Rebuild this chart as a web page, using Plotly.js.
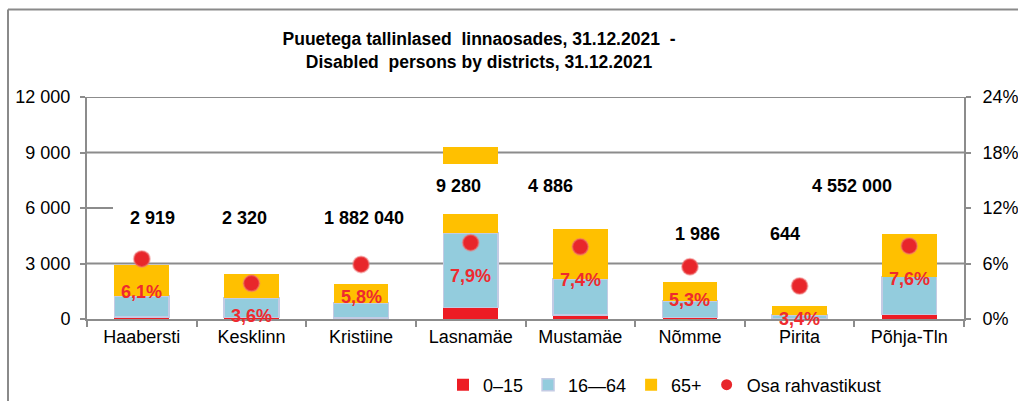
<!DOCTYPE html>
<html>
<head>
<meta charset="utf-8">
<script src="https://cdn.plot.ly/plotly-3.0.1.min.js"></script>
<style>html,body{margin:0;padding:0;background:#fff;}#chart{width:1018px;height:401px;}</style>
</head>
<body>
<div id="chart"></div>
<script>
// ---- data ----
const categories = ['Haabersti','Kesklinn','Kristiine','Lasnamäe','Mustamäe','Nõmme','Pirita','Põhja-Tln'];
const age0_15  = [100, 70, 60, 610, 230, 80, 40, 240];
const age16_64 = [1140, 1060, 800, 4040, 1930, 890, 180, 2050];
const age65    = [1680, 1280, 1030, 1030, 2700, 1050, 500, 2320];
const lasnamaeGap = [0, 0, 0, 2700, 0, 0, 0, 0];   // empty space before floating 65+ part
const lasnamaeTop = [0, 0, 0, 930, 0, 0, 0, 0];    // floating 65+ part
const shareDot = [6.5, 3.86, 5.9, 8.25, 7.8, 5.65, 3.57, 7.9];
const shareLabels = ['6,1%','3,6%','5,8%','7,9%','7,4%','5,3%','3,4%','7,6%'];
const totalLabels = ['2 919','2 320','1 882 040','9 280','4 886','1 986','644','4 552 000'];
const yTicks = [0, 3000, 6000, 9000, 12000];

// ---- layout helpers (positions of text labels) ----
const totalLabelY  = [5440, 5440, 5440, 7190, 7190, 4600, 4600, 7190];
const totalLabelDx = [11, -7, 3, -12, -30, 8, -15, -57];

const W = 1018, H = 401, L = 87, R = 54, T = 97, B = 82;
const pw = W - L - R, ph = H - T - B;
const px = x => (x - L) / pw;
const py = y => (H - B - y) / ph;

const FONT = '"Liberation Sans", Arial, sans-serif';
const GRID = '#8c8c8c';

const traces = [
  {type:'bar', name:'0–15', x:categories, y:age0_15, marker:{color:'#ED1C24'}, hoverinfo:'skip'},
  {type:'bar', name:'16—64', x:categories, y:age16_64, marker:{color:'#93CCDD', line:{color:'#c3cbe4', width:1.5}}, hoverinfo:'skip'},
  {type:'bar', name:'65+', x:categories, y:age65, marker:{color:'#FFC000'}, hoverinfo:'skip'},
  {type:'bar', name:'gap', x:categories, y:lasnamaeGap, marker:{color:'rgba(0,0,0,0)'}, showlegend:false, hoverinfo:'skip'},
  {type:'bar', name:'65+ ', x:categories, y:lasnamaeTop, marker:{color:'#FFC000'}, showlegend:false, hoverinfo:'skip'},
  {type:'scatter', mode:'markers', name:'Osa rahvastikust', x:categories, y:shareDot, yaxis:'y2', showlegend:false,
   marker:{size:16, color:'#E8262B', line:{color:'rgba(240,120,120,0.5)', width:2}}, hoverinfo:'skip'},
  // legend entry for the dots (smaller symbol, as in the original legend)
  {type:'scatter', mode:'markers', name:'Osa rahvastikust', x:[categories[0]], y:[null], yaxis:'y2',
   marker:{size:11, color:'#E8262B'}, hoverinfo:'skip'}
];

const annotations = [];
categories.forEach((c, i) => {
  annotations.push({x:c, y:totalLabelY[i], xref:'x', yref:'y', text:'<b>' + totalLabels[i] + '</b>',
    showarrow:false, xshift:totalLabelDx[i], font:{family:FONT, size:18, color:'#000'}});
  annotations.push({x:c, y:shareDot[i], xref:'x', yref:'y2', text:'<b>' + shareLabels[i] + '</b>',
    showarrow:false, yshift:-33, font:{family:FONT, size:18, color:'#EE2A2F'}});
});

const shapes = [];
// horizontal grid lines (the 6 000 one is hidden behind the labels except a short stub)
yTicks.filter(v => v > 0).forEach(v => {
  shapes.push({type:'line', xref:'paper', yref:'y', x0:0, x1: v === 6000 ? px(113) : 1, y0:v, y1:v,
    line:{color:GRID, width:2}, layer:'below'});
});
// outer frame
shapes.push({type:'line', xref:'paper', yref:'paper', x0:px(8), x1:px(1030), y0:py(9.5), y1:py(9.5), line:{color:'#8a8a8a', width:2}});
shapes.push({type:'line', xref:'paper', yref:'paper', x0:px(8), x1:px(8), y0:py(9.5), y1:py(410), line:{color:'#8a8a8a', width:2}});

const layout = {
  width:W, height:H,
  margin:{l:L, r:R, t:T, b:B, pad:0, autoexpand:false},
  paper_bgcolor:'#fff', plot_bgcolor:'#fff',
  separators:', ',
  font:{family:FONT, size:18, color:'#000'},
  barmode:'stack', bargap:0.5,
  title:{text:'<b>Puuetega tallinlased  linnaosades, 31.12.2021  -<br>Disabled  persons by districts, 31.12.2021</b>',
    font:{family:FONT, size:17.5, color:'#000'}, x:px(479), xanchor:'center', xref:'paper',
    y:1 - 45/H, yref:'container', yanchor:'top'},
  xaxis:{type:'category', showline:true, linecolor:GRID, linewidth:2, ticks:'outside', tickson:'boundaries',
    ticklen:6, tickwidth:2, tickcolor:GRID, showgrid:false, tickfont:{family:FONT, size:18, color:'#000'}, fixedrange:true, automargin:false},
  yaxis:{range:[0,12000], tickvals:yTicks, tickformat:',', showline:true, linecolor:GRID, linewidth:2,
    ticks:'outside', ticklen:5, tickwidth:2, tickcolor:GRID, showgrid:false,
    zeroline:false, ticklabelstandoff:6, tickfont:{family:FONT, size:18, color:'#000'}, fixedrange:true, automargin:false},
  yaxis2:{range:[0,24], dtick:6, ticksuffix:'%', overlaying:'y', side:'right', showline:true, linecolor:GRID,
    linewidth:2, ticks:'outside', ticklen:5, tickwidth:2, tickcolor:GRID, showgrid:false, zeroline:false,
    ticklabelstandoff:8, tickfont:{family:FONT, size:18, color:'#000'}, fixedrange:true, automargin:false},
  legend:{orientation:'h', x:px(443), xanchor:'left', y:py(385), yanchor:'middle',
    font:{family:FONT, size:18, color:'#000'}, bgcolor:'rgba(0,0,0,0)', traceorder:'normal'},
  showlegend:true,
  annotations:annotations,
  shapes:shapes
};

Plotly.newPlot('chart', traces, layout, {displayModeBar:false, staticPlot:true});
</script>
</body>
</html>
